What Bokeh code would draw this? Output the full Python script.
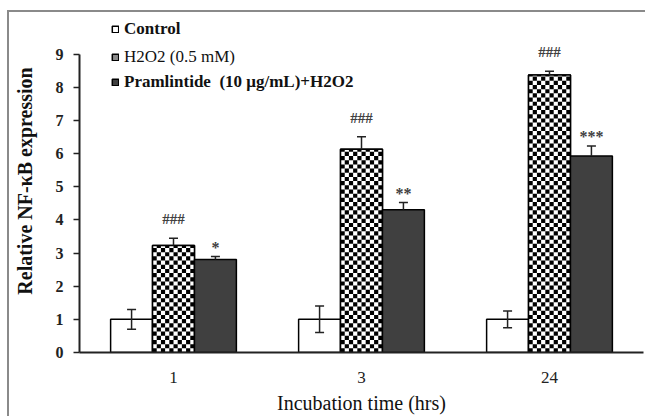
import math
from bokeh.plotting import figure
from bokeh.models import (ColumnDataSource, Range1d, FixedTicker, Whisker,
                          Legend, LegendItem, TeeHead, InlineStyleSheet)
from bokeh.core.properties import value
from bokeh.embed import file_html
from bokeh.resources import INLINE

# ---------------- data ----------------
times = ["1", "3", "24"]
control = [1.0, 1.0, 1.0]
control_err = [0.30, 0.40, 0.25]
h2o2 = [3.23, 6.13, 8.37]
h2o2_err = [0.22, 0.38, 0.12]
pram = [2.81, 4.31, 5.93]
pram_err = [0.09, 0.22, 0.30]
h2o2_sig = ["###", "###", "###"]
pram_sig = ["*", "**", "***"]
y_ticks = [0, 1, 2, 3, 4, 5, 6, 7, 8, 9]
series_names = ["Control", "H2O2 (0.5 mM)", "Pramlintide  (10 μg/mL)+H2O2"]

FONT = "Liberation Serif"
BAR_W = 0.223
HASH_GAP = 0.57
STAR_GAP = 0.28
Y_END = 10.35
FRAME_W = 564          # px of the plot frame
FRAME_H = 344
CHECK_COLS = 10        # checker cells across a bar

xc = [i + 0.5 for i in range(len(times))]   # category centres on the numeric scale

src = ColumnDataSource(dict(
    xc=xc,
    xl=[x - BAR_W for x in xc],
    xr=[x + BAR_W for x in xc],
    control=control,
    c_up=[v + e for v, e in zip(control, control_err)],
    c_lo=[v - e for v, e in zip(control, control_err)],
    h2o2=h2o2,
    h_up=[v + e for v, e in zip(h2o2, h2o2_err)],
    h_sig=h2o2_sig,
    h_sig_y=[v + e + HASH_GAP for v, e in zip(h2o2, h2o2_err)],
    pram=pram,
    p_up=[v + e for v, e in zip(pram, pram_err)],
    p_sig=pram_sig,
    p_sig_y=[v + e + STAR_GAP for v, e in zip(pram, pram_err)],
))

frame_css = InlineStyleSheet(css="""
:host(.outerframe)::before {
  content: "";
  position: absolute;
  left: 7px; top: 10px;
  width: 638px; height: 2px;
  background: #8a8a8a;
  pointer-events: none;
  z-index: 10;
}
:host(.outerframe)::after {
  content: "";
  position: absolute;
  left: 7px; top: 10px;
  width: 2px; height: 406px;
  background: #8a8a8a;
  pointer-events: none;
  z-index: 10;
}
""")

p = figure(x_range=Range1d(0, len(times)), y_range=Range1d(0, Y_END),
           width=645, height=416, output_backend="svg", toolbar_location=None,
           min_border_left=79, min_border_right=2, min_border_top=9, min_border_bottom=63,
           stylesheets=[frame_css], css_classes=["outerframe"])
p.outline_line_color = None
p.xgrid.grid_line_color = None
p.ygrid.grid_line_color = None
p.background_fill_color = "white"
p.border_fill_color = "white"

# bars
r_c = p.vbar(x="xl", top="control", width=BAR_W, source=src,
             fill_color="white", line_color="black", line_width=1.5)
# legend stand-in for the checker series (fully covered by the checker bar)
r_h_leg = p.vbar(x="xc", top="h2o2", width=BAR_W, source=src,
                 fill_color="#8c8c8c", line_color="black", line_width=1.5)
p.vbar(x="xc", top="h2o2", width=BAR_W, source=src, fill_color="white", line_color=None)

# checkerboard cells for the H2O2 bars, built from the bar heights
cell_w = BAR_W / CHECK_COLS
cell_h = cell_w * (FRAME_W / len(times)) / (FRAME_H / Y_END)
cl, cr, cb, ct = [], [], [], []
for x, top in zip(xc, h2o2):
    left0 = x - BAR_W / 2
    nrows = int(math.ceil(top / cell_h))
    for r in range(nrows):
        for c in range(CHECK_COLS):
            if (r + c) % 2 == 0:
                cl.append(left0 + c * cell_w)
                cr.append(left0 + (c + 1) * cell_w)
                cb.append(r * cell_h)
                ct.append(min((r + 1) * cell_h, top))
p.quad(left=cl, right=cr, bottom=cb, top=ct, fill_color="black", line_color=None)
p.vbar(x="xc", top="h2o2", width=BAR_W, source=src,
       fill_alpha=0, line_color="black", line_width=1.5)

r_p = p.vbar(x="xr", top="pram", width=BAR_W, source=src,
             fill_color="#404040", line_color="black", line_width=1.5)


def head():
    return TeeHead(size=9, line_width=1.5, line_color="#222")


p.add_layout(Whisker(source=src, base="xl", upper="c_up", lower="c_lo",
                     upper_head=head(), lower_head=head(), line_width=1.5, line_color="#222",
                     level="annotation"))
p.add_layout(Whisker(source=src, base="xc", upper="h_up", lower="h2o2",
                     upper_head=head(), lower_head=None, line_width=1.5, line_color="#222",
                     level="annotation"))
p.add_layout(Whisker(source=src, base="xr", upper="p_up", lower="pram",
                     upper_head=head(), lower_head=None, line_width=1.5, line_color="#222",
                     level="annotation"))

p.text(x="xc", y="h_sig_y", text="h_sig", source=src,
       text_font=value(FONT), text_font_style="bold", text_font_size="15px",
       text_align="center", text_baseline="middle", text_color="#404040")
p.text(x="xr", y="p_sig_y", text="p_sig", source=src,
       text_font=value(FONT), text_font_style="bold", text_font_size="16px",
       text_align="center", text_baseline="middle", text_color="#404040")

# axes
yax = p.yaxis[0]
yax.bounds = (0, 9)
yax.ticker = FixedTicker(ticks=y_ticks)
yax.minor_tick_line_color = None
yax.major_tick_out = 6
yax.major_tick_in = 0
yax.major_tick_line_width = 1.5
yax.axis_line_width = 2
yax.axis_line_color = "#222222"
yax.major_tick_line_color = "#222222"
yax.major_label_text_font = FONT
yax.major_label_text_font_style = "bold"
yax.major_label_text_font_size = "16px"
yax.major_label_text_color = "#222222"
yax.major_label_standoff = 10
yax.axis_label = "Relative NF-κB expression"
yax.axis_label_text_font = FONT
yax.axis_label_text_font_style = "bold"
yax.axis_label_text_font_size = "20px"
yax.axis_label_text_color = "#111111"
yax.axis_label_standoff = 17

xax = p.xaxis[0]
xax.ticker = FixedTicker(ticks=xc)
xax.major_label_overrides = {x: t for x, t in zip(xc, times)}
xax.axis_line_width = 2
xax.axis_line_color = "#222222"
xax.major_tick_line_color = None
xax.minor_tick_line_color = None
xax.major_label_text_font = FONT
xax.major_label_text_font_size = "17px"
xax.major_label_text_color = "#222222"
xax.major_label_standoff = 13
xax.axis_label = "Incubation time (hrs)"
xax.axis_label_text_font = FONT
xax.axis_label_text_font_style = "normal"
xax.axis_label_text_font_size = "20px"
xax.axis_label_text_color = "#111111"
xax.axis_label_standoff = 6

# legend rows (one legend per row so each can keep its own weight)
rows = [(r_c, series_names[0], "bold", 313), (r_h_leg, series_names[1], "normal", 285),
        (r_p, series_names[2], "bold", 260)]
for rend, name, style, vy in rows:
    lg = Legend(items=[LegendItem(label=name, renderers=[rend])], location=(32, vy),
                glyph_width=8, glyph_height=8, label_standoff=5, padding=0, margin=0,
                spacing=0, border_line_color=None, background_fill_alpha=0,
                label_text_font=FONT, label_text_font_style=style,
                label_text_font_size="17px", label_text_color="#111111")
    p.add_layout(lg, "center")

open("out.html", "w").write(file_html(p, INLINE))
